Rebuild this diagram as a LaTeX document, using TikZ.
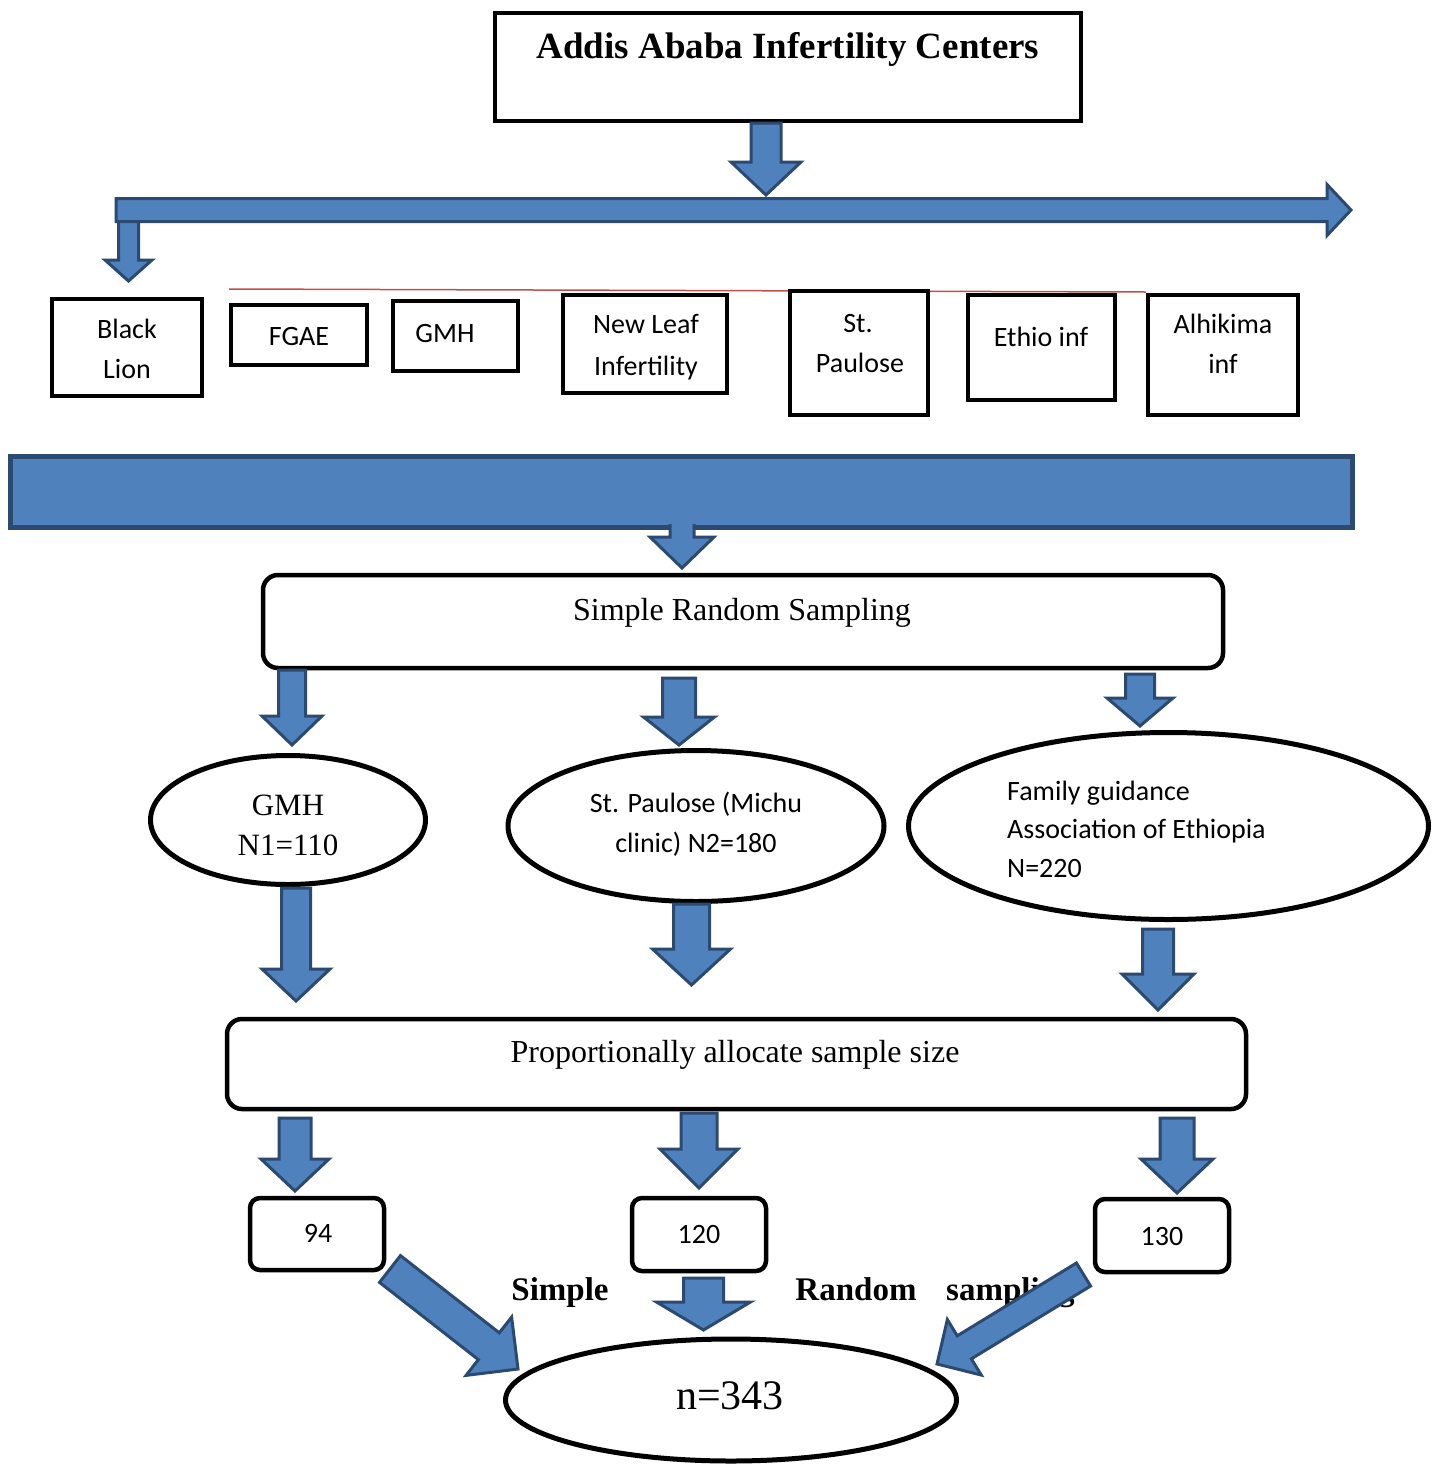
\documentclass[tikz,border=0pt]{standalone}
\usepackage{fontspec}
\setmainfont{Liberation Serif}
\newfontfamily\calib{Carlito}
\usetikzlibrary{shapes.geometric,calc}
\definecolor{bfill}{HTML}{4F81BD}
\definecolor{bline}{HTML}{2C4A70}
\definecolor{redl}{HTML}{C0504D}
\tikzset{
 sqbox/.style={draw=black, line width=4.5pt, fill=white, inner sep=0pt},
 rbox/.style={sqbox, rounded corners=15pt},
 nbox/.style={sqbox, rounded corners=10pt},
 oval/.style={draw=black, line width=5pt, fill=white, ellipse, inner sep=0pt},
 cal/.style={font=\calib\fontsize{28}{34}\selectfont, inner sep=0pt, anchor=base},
 ser/.style={font=\fontsize{32}{38}\selectfont, inner sep=0pt, anchor=base},
 serb/.style={font=\bfseries\fontsize{33}{40}\selectfont, inner sep=0pt, anchor=base},
 arrfill/.style={fill=bfill},
 arrline/.style={draw=bline, line width=3pt, line join=miter},
}
% closed block arrow: #1 start, #2 tip, #3 half shaft, #4 half head, #5 head length
\newcommand\blockarrow[5]{%
 \coordinate (bah) at ($(#2)!#5pt!(#1)$);
 \filldraw[arrfill, arrline] ($(#1)!#3pt!90:(#2)$) -- ($(bah)!#3pt!-90:(#1)$) -- ($(bah)!#4pt!-90:(#1)$) -- (#2) -- ($(bah)!#4pt!90:(#1)$) -- ($(bah)!#3pt!90:(#1)$) -- ($(#1)!#3pt!-90:(#2)$) -- cycle;
}
% open block arrow (no outline on the start edge)
\newcommand\blockarrowopen[5]{%
 \coordinate (bah) at ($(#2)!#5pt!(#1)$);
 \fill[arrfill] ($(#1)!#3pt!90:(#2)$) -- ($(bah)!#3pt!-90:(#1)$) -- ($(bah)!#4pt!-90:(#1)$) -- (#2) -- ($(bah)!#4pt!90:(#1)$) -- ($(bah)!#3pt!90:(#1)$) -- ($(#1)!#3pt!-90:(#2)$) -- cycle;
 \draw[arrline] ($(#1)!#3pt!90:(#2)$) -- ($(bah)!#3pt!-90:(#1)$) -- ($(bah)!#4pt!-90:(#1)$) -- (#2) -- ($(bah)!#4pt!90:(#1)$) -- ($(bah)!#3pt!90:(#1)$) -- ($(#1)!#3pt!-90:(#2)$);
}
\begin{document}
\begin{tikzpicture}[x=1pt,y=-1pt]
\useasboundingbox[fill=white] (0,0) rectangle (1440,1465);

% red line
\coordinate (r1) at (229,289);
\coordinate (r2) at (1146,292);
\draw[redl, line width=1.5pt] (r1) -- (r2);

% title box
\node[sqbox, minimum width=586pt, minimum height=108pt] (ttl) at (788,67) {};
\node[font=\bfseries\fontsize{37}{44}\selectfont, inner sep=0pt, anchor=base] (ttlt) at (788,58) {Addis Ababa Infertility Centers};

% centre boxes
\node[sqbox, minimum width=150pt, minimum height=97pt] (bl) at (127,347.5) {};
\node[sqbox, minimum width=136pt, minimum height=60pt] (fg) at (299,335) {};
\node[sqbox, minimum width=125pt, minimum height=70pt] (gm) at (455.5,336) {};
\node[sqbox, minimum width=164pt, minimum height=98pt] (nl) at (645,344) {};
\node[sqbox, minimum width=138pt, minimum height=124pt] (sp) at (859,353) {};
\node[sqbox, minimum width=147pt, minimum height=105pt] (et) at (1041.5,347.5) {};
\node[sqbox, minimum width=150pt, minimum height=120pt] (al) at (1223,355) {};
\node[cal] (blt1) at (127,338) {Black};
\node[cal] (blt2) at (127,378) {Lion};
\node[cal] (fgt) at (299,345) {FGAE};
\node[cal] (gmt) at (445,342) {GMH};
\node[cal] (nlt1) at (646,333) {New Leaf};
\node[cal] (nlt2) at (646,375) {Infertility};
\node[cal] (spt1) at (858,332) {St.};
\node[cal] (spt2) at (860,372) {Paulose};
\node[cal] (ett) at (1041,346) {Ethio inf};
\node[cal] (alt1) at (1223,333) {Alhikima};
\node[cal] (alt2) at (1223,373) {inf};

% top arrows
\coordinate (a1s) at (766,123);
\coordinate (a1e) at (766,195);
\blockarrow{a1s}{a1e}{15}{35}{33}
\coordinate (a2s) at (128.5,215);
\coordinate (a2e) at (128.5,281);
\blockarrowopen{a2s}{a2e}{10}{23.5}{21}
\coordinate (a3s) at (116,210);
\coordinate (a3e) at (1351,210);
\blockarrow{a3s}{a3e}{11.5}{25.5}{24}

% band
\node[draw=bline, line width=5pt, fill=bfill, minimum width=1342pt, minimum height=71pt, inner sep=0pt] (band) at (681.5,492) {};
\coordinate (a4s) at (682,524);
\coordinate (a4e) at (682,568);
\blockarrowopen{a4s}{a4e}{12}{32}{31}

% simple random sampling
\node[rbox, minimum width=960pt, minimum height=93pt] (srs) at (743,621.5) {};
\node[ser] (srst) at (742,620) {Simple Random Sampling};
\coordinate (b1s) at (292,670);
\coordinate (b1e) at (292,745);
\blockarrow{b1s}{b1e}{13.5}{30}{29}
\coordinate (b2s) at (679,678);
\coordinate (b2e) at (679,745);
\blockarrow{b2s}{b2e}{16.5}{35.5}{28}
\coordinate (b3s) at (1140,674);
\coordinate (b3e) at (1140,726);
\blockarrow{b3s}{b3e}{14.5}{33}{28}

% ellipses
\node[oval, minimum width=275pt, minimum height=129pt] (e1) at (288,820) {};
\node[oval, minimum width=376pt, minimum height=151pt] (e2) at (696,826) {};
\node[oval, minimum width=520pt, minimum height=187pt] (e3) at (1168.5,826) {};
\node[ser, font=\fontsize{31}{37}\selectfont] (e1t1) at (288,815) {GMH};
\node[ser, font=\fontsize{31}{37}\selectfont] (e1t2) at (288,855) {N1=110};
\node[cal] (e2t1) at (696,812) {St. Paulose (Michu};
\node[cal] (e2t2) at (696,852) {clinic) N2=180};
\node[cal, anchor=base west] (e3t1) at (1007,800) {Family guidance};
\node[cal, anchor=base west] (e3t2) at (1007,838) {Association of Ethiopia};
\node[cal, anchor=base west] (e3t3) at (1007,877) {N=220};

\coordinate (c1s) at (296,888);
\coordinate (c1e) at (296,1001);
\blockarrow{c1s}{c1e}{14.5}{34}{32}
\coordinate (c2s) at (691.5,904);
\coordinate (c2e) at (691.5,985);
\blockarrow{c2s}{c2e}{18}{39}{36}
\coordinate (c3s) at (1158,929);
\coordinate (c3e) at (1158,1010);
\blockarrow{c3s}{c3e}{15.5}{36}{36}

% proportional allocation
\node[rbox, minimum width=1019pt, minimum height=90pt] (pab) at (736.5,1064) {};
\node[ser] (pabt) at (735,1062) {Proportionally allocate sample size};

\coordinate (d1s) at (295,1118);
\coordinate (d1e) at (295,1191);
\blockarrow{d1s}{d1e}{16}{34}{32}
\coordinate (d2s) at (699,1113);
\coordinate (d2e) at (699,1188);
\blockarrow{d2s}{d2e}{18}{39}{39}
\coordinate (d3s) at (1177,1118);
\coordinate (d3e) at (1177,1193);
\blockarrow{d3s}{d3e}{17}{36}{34}

% number boxes
\node[nbox, minimum width=134pt, minimum height=72pt] (n94) at (317,1234) {};
\node[nbox, minimum width=134pt, minimum height=73pt] (n120) at (699,1234.5) {};
\node[nbox, minimum width=134pt, minimum height=73pt] (n130) at (1162,1235.5) {};
\node[cal] (n94t) at (318,1242) {94};
\node[cal] (n120t) at (699,1243) {120};
\node[cal] (n130t) at (1162,1245) {130};

% bold caption
\node[serb] (w1) at (560,1300) {Simple};
\node[serb] (w2) at (856,1300) {Random};
\node[serb, anchor=base west] (w3) at (946,1300) {sampling};

% final
\node[oval, minimum width=451pt, minimum height=122pt] (fin) at (731,1400) {};
\node[ser, font=\fontsize{42}{48}\selectfont] (fint) at (730,1409) {n=343};

\coordinate (e1s) at (703.5,1278);
\coordinate (e1e) at (703.5,1330);
\blockarrow{e1s}{e1e}{20}{47}{28}
\coordinate (f1s) at (390,1269);
\coordinate (f1e) at (518,1369);
\blockarrow{f1s}{f1e}{17}{37}{37}
\coordinate (f2s) at (1083.5,1274.5);
\coordinate (f2e) at (937,1364);
\blockarrow{f2s}{f2e}{13.5}{32.5}{32}
\end{tikzpicture}
\end{document}
